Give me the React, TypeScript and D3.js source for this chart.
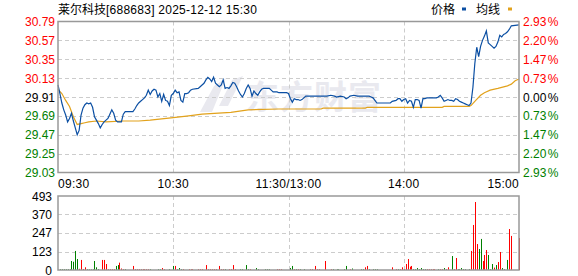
import React from "react";
import * as d3 from "d3";

// ---------- data ----------
const title = "莱尔科技";
const titleRest = "[688683] 2025-12-12 15:30";
const prevClose = 29.91;
const priceTicks = [30.79, 30.57, 30.35, 30.13, 29.91, 29.69, 29.47, 29.25, 29.03];
const pctTicks = ["2.93", "2.20", "1.47", "0.73", "0.00", "0.73", "1.47", "2.20", "2.93"];
const volTicks = [493, 370, 247, 123, 0];
const timeLabels = ["09:30", "10:30", "11:30/13:00", "14:00", "15:00"];
const timeLabelMinutes = [0, 60, 120, 180, 240];

// [minute index, price]
const pricePoints: [number, number][] = [
  [0, 30.05], [1, 29.95], [2, 29.84], [3, 29.76], [4, 29.7], [5, 29.62], [6, 29.66], [7, 29.72], [8, 29.63],
  [9, 29.55], [10, 29.47], [11, 29.52], [12, 29.7], [13, 29.78], [14, 29.82], [15, 29.84], [16, 29.83],
  [17, 29.84], [18, 29.79], [19, 29.68], [20, 29.64], [21, 29.6], [22, 29.55], [23, 29.59], [24, 29.62],
  [25, 29.64], [26, 29.66], [27, 29.71], [28, 29.76], [29, 29.72], [30, 29.64], [31, 29.62], [33, 29.62],
  [34, 29.71], [35, 29.74], [39, 29.74], [40, 29.77], [41, 29.81], [42, 29.84], [43, 29.86], [44, 29.88],
  [45, 29.9], [46, 29.93], [47, 29.99], [48, 29.94], [49, 29.98], [50, 30.0], [51, 29.99], [52, 29.91],
  [53, 29.95], [54, 29.86], [55, 29.94], [56, 29.87], [57, 29.86], [58, 29.81], [59, 29.93], [60, 29.95],
  [61, 29.99], [62, 29.96], [63, 29.97], [64, 29.87], [65, 29.85], [66, 29.95], [67, 29.95], [68, 29.96],
  [69, 29.99], [70, 30.0], [73, 30.01], [74, 30.03], [75, 30.05], [76, 30.07], [77, 30.11], [78, 30.14],
  [79, 30.12], [80, 30.09], [81, 30.14], [82, 30.07], [83, 30.05], [84, 30.03], [85, 30.05], [86, 30.11],
  [87, 30.01], [88, 30.02], [89, 30.01], [90, 30.04], [91, 30.08], [92, 30.07], [93, 30.03], [94, 29.98],
  [95, 29.94], [96, 29.91], [97, 29.95], [98, 30.01], [99, 30.05], [100, 30.01], [101, 29.92], [102, 29.98],
  [103, 29.95], [104, 29.93], [105, 29.97], [106, 30.0], [107, 30.01], [110, 30.01], [111, 29.99],
  [112, 29.97], [114, 29.97], [115, 29.96], [119, 29.96], [120, 29.95], [121, 29.89], [122, 29.85],
  [123, 29.89], [124, 29.88], [125, 29.88], [126, 29.87], [127, 29.88], [128, 29.9], [129, 29.92],
  [135, 29.92], [140, 29.92], [142, 29.93], [144, 29.92], [145, 29.91], [147, 29.92], [149, 29.91],
  [150, 29.89], [151, 29.9], [152, 29.92], [154, 29.93], [156, 29.92], [162, 29.92], [163, 29.91],
  [164, 29.9], [165, 29.87], [166, 29.84], [173, 29.84], [174, 29.86], [176, 29.87], [177, 29.89],
  [178, 29.89], [179, 29.86], [180, 29.88], [181, 29.89], [182, 29.84], [183, 29.87], [184, 29.86],
  [185, 29.79], [186, 29.88], [187, 29.88], [188, 29.87], [189, 29.78], [190, 29.89], [191, 29.89],
  [192, 29.9], [197, 29.9], [198, 29.91], [199, 29.93], [200, 29.9], [201, 29.86], [202, 29.87],
  [203, 29.88], [204, 29.87], [205, 29.87], [206, 29.86], [207, 29.89], [208, 29.88], [209, 29.86],
  [210, 29.85], [211, 29.84], [212, 29.83], [213, 29.82], [214, 29.81], [215, 29.84], [216, 30.02],
  [217, 30.3], [218, 30.49], [219, 30.38], [220, 30.5], [221, 30.57], [222, 30.62], [223, 30.68],
  [224, 30.54], [225, 30.52], [226, 30.5], [227, 30.48], [228, 30.5], [229, 30.55], [230, 30.63],
  [231, 30.61], [232, 30.64], [233, 30.65], [234, 30.67], [235, 30.7], [236, 30.74], [240, 30.75],
];

// [minute index, average price]
const avgPoints: [number, number][] = [
  [0, 30.0], [2, 29.95], [4, 29.87], [6, 29.8], [8, 29.68], [10, 29.59], [12, 29.6], [14, 29.61],
  [16, 29.62], [20, 29.63], [25, 29.62], [34, 29.63], [42, 29.63], [48, 29.64], [60, 29.67], [68, 29.69],
  [75, 29.71], [90, 29.73], [99, 29.76], [115, 29.77], [137, 29.77], [138, 29.78], [160, 29.78],
  [161, 29.79], [200, 29.79], [201, 29.8], [214, 29.8], [215, 29.81], [217, 29.86], [220, 29.93],
  [222, 29.96], [225, 29.99], [229, 30.01], [234, 30.04], [236, 30.06], [238, 30.1], [240, 30.12],
];

// [minute index, volume, direction (1 up / -1 down)]
const volumePoints: [number, number, number][] = [
  [1, 5, -1], [2, 5, -1], [3, 5, -1], [4, 5, -1], [5, 5, -1], [6, 5, -1], [7, 60, -1], [8, 55, -1],
  [9, 127, -1], [10, 73, -1], [11, 8, 1], [12, 67, 1], [13, 6, 1], [14, 18, 1], [15, 5, -1], [16, 4, -1],
  [17, 4, -1], [18, 4, -1], [19, 60, -1], [20, 18, -1], [21, 6, -1], [23, 67, 1], [24, 67, 1], [25, 40, 1],
  [26, 5, 1], [27, 5, 1], [28, 5, 1], [29, 5, 1], [30, 27, -1], [31, 33, -1], [32, 49, 1], [33, 10, 1],
  [34, 5, 1], [35, 5, -1], [39, 27, 1], [40, 5, 1], [41, 5, 1], [42, 5, 1], [43, 5, 1], [44, 5, 1],
  [45, 5, 1], [46, 5, 1], [47, 5, 1], [48, 5, -1], [52, 5, -1], [53, 5, -1], [54, 13, 1], [55, 5, 1],
  [58, 5, -1], [60, 27, -1], [61, 27, 1], [62, 5, -1], [63, 13, -1], [64, 5, -1], [65, 5, 1], [68, 5, 1],
  [69, 5, 1], [70, 5, 1], [73, 5, 1], [74, 5, 1], [75, 5, 1], [77, 33, 1], [78, 5, 1], [79, 5, 1],
  [80, 5, 1], [81, 5, 1], [82, 5, 1], [84, 27, 1], [85, 5, 1], [86, 5, 1], [87, 5, -1], [89, 5, 1],
  [90, 5, 1], [91, 33, 1], [92, 5, 1], [95, 5, -1], [96, 5, -1], [98, 33, -1], [99, 5, -1], [100, 5, 1],
  [103, 13, -1], [104, 5, -1], [108, 5, -1], [109, 5, -1], [110, 5, -1], [114, 5, 1], [115, 5, 1],
  [116, 5, 1], [121, 13, -1], [122, 27, -1], [123, 5, 1], [124, 5, -1], [125, 5, 1], [126, 5, -1],
  [128, 5, -1], [131, 5, 1], [132, 5, 1], [134, 27, 1], [135, 5, 1], [136, 5, 1], [139, 60, 1],
  [142, 5, 1], [143, 5, -1], [145, 5, -1], [146, 5, -1], [149, 5, -1], [150, 27, -1], [152, 5, 1],
  [153, 10, -1], [158, 5, -1], [159, 5, -1], [160, 18, 1], [161, 27, 1], [162, 5, -1], [164, 5, -1],
  [165, 5, -1], [166, 5, -1], [174, 18, 1], [176, 5, 1], [177, 5, -1], [178, 5, 1], [179, 18, 1],
  [180, 5, 1], [181, 40, 1], [182, 73, 1], [183, 22, 1], [184, 27, 1], [185, 5, -1], [186, 5, -1],
  [187, 13, -1], [188, 5, -1], [189, 13, -1], [190, 5, -1], [191, 5, -1], [192, 5, 1], [193, 5, 1],
  [194, 5, 1], [195, 5, 1], [196, 5, 1], [198, 5, -1], [199, 5, 1], [200, 5, 1], [201, 13, -1],
  [202, 5, 1], [203, 18, 1], [205, 93, -1], [206, 5, 1], [207, 80, 1], [208, 5, -1], [209, 5, -1],
  [210, 13, -1], [211, 5, -1], [212, 5, -1], [214, 5, -1], [215, 127, 1], [216, 300, 1], [217, 453, 1],
  [218, 173, 1], [219, 140, -1], [220, 207, -1], [221, 60, 1], [222, 100, 1], [223, 133, 1],
  [224, 100, -1], [225, 5, -1], [226, 40, -1], [227, 16, 1], [228, 33, -1], [229, 53, 1], [230, 120, 1],
  [231, 13, -1], [232, 5, -1], [234, 67, -1], [235, 273, 1], [236, 227, 1], [240, 213, 1],
];

// ---------- layout ----------
const W = 578;
const H = 276;
const L = 58;
const R = 519;
const PT = 21.5;
const PB = 172.5;
const VT = 196;
const VB = 270;

const RED = "#ff0000";
const GREEN = "#008000";
const BLUE = "#0b4fa3";
const ORANGE = "#e2a21c";
const GRID = "#cccccc";
const FRAME = "#999999";
const FONT = "'Liberation Sans', Arial, sans-serif";
const CJK = "'Noto Sans CJK SC', 'Liberation Sans', sans-serif";

export default function App() {
  const x = d3.scaleLinear().domain([0, 240]).range([L, R]);
  const y = d3.scaleLinear().domain([29.03, 30.79]).range([PB, PT]);
  const yv = d3.scaleLinear().domain([0, 493]).range([VB, VT]);

  const line = d3
    .line<[number, number]>()
    .x((d) => x(d[0]))
    .y((d) => y(d[1]));

  const labelColor = (v: number) =>
    Math.abs(v - prevClose) < 0.001 ? "#000" : v > prevClose ? RED : GREEN;

  const vGridMinutes = [60, 120, 180];

  return (
    <svg
      width={W}
      height={H}
      style={{ position: "absolute", left: 0, top: 0, background: "#fff" }}
    >
      {/* title */}
      <text x={L} y={14} fontSize={12} fill="#000">
        <tspan fontFamily={CJK}>{title}</tspan>
        <tspan fontFamily={FONT} letterSpacing={0.25}>{titleRest}</tspan>
      </text>

      {/* legend */}
      <text x={431} y={14} fontSize={12} fontFamily={CJK} fill="#000">
        价格
      </text>
      <rect x={462} y={7.5} width={4} height={3} fill={BLUE} />
      <text x={476} y={14} fontSize={12} fontFamily={CJK} fill="#000">
        均线
      </text>
      <rect x={508} y={7.5} width={4} height={3} fill={ORANGE} />

      {/* watermark */}
      <text
        x={246}
        y={109}
        fontSize={33}
        fontWeight="bold"
        fontFamily={CJK}
        fill="#e9e9ef"
        letterSpacing={1}
      >
        东方财富
      </text>
      <g fill="#e9e9ef">
        <path d="M214,86 L226,78 L212,112 L200,112 Z" />
        <path d="M232,80 L243,76 L228,106 L219,106 Z" />
      </g>

      {/* price grid */}
      {priceTicks.slice(1, -1).map((t) => (
        <line
          key={"pg" + t}
          x1={L}
          x2={R}
          y1={Math.round(y(t)) + 0.5}
          y2={Math.round(y(t)) + 0.5}
          stroke={GRID}
          strokeDasharray="4,3"
        />
      ))}
      {vGridMinutes.map((m) => (
        <line
          key={"vg" + m}
          x1={Math.round(x(m)) + 0.5}
          x2={Math.round(x(m)) + 0.5}
          y1={PT}
          y2={PB}
          stroke={GRID}
          strokeDasharray="4,3"
        />
      ))}

      {/* lines */}
      <path d={line(avgPoints) || ""} fill="none" stroke={ORANGE} strokeWidth={1.2} />
      <path d={line(pricePoints) || ""} fill="none" stroke={BLUE} strokeWidth={1.2} />

      {/* price frame */}
      <rect x={L} y={PT} width={R - L} height={PB - PT} fill="none" stroke={FRAME} strokeWidth={1.5} />

      {/* left price labels */}
      {priceTicks.map((t) => (
        <text
          key={"pl" + t}
          x={55}
          y={y(t) + 4.5}
          textAnchor="end"
          fontSize={12}
          fontFamily={FONT}
          fill={labelColor(t)}
        >
          {t.toFixed(2)}
        </text>
      ))}
      {/* right pct labels */}
      {pctTicks.map((s, i) => (
        <text
          key={"pr" + i}
          x={523}
          y={y(priceTicks[i]) + 4.5}
          fontSize={12}
          fontFamily={FONT}
          fill={labelColor(priceTicks[i])}
        >
          {s}
          <tspan dx={1.5}>%</tspan>
        </text>
      ))}

      {/* time labels */}
      {timeLabels.map((s, i) => (
        <text
          key={"tl" + s}
          x={x(timeLabelMinutes[i])}
          y={188}
          fontSize={12}
          fontFamily={FONT}
          fill="#000"
          letterSpacing={0.3}
          textAnchor={i === 0 ? "start" : i === timeLabels.length - 1 ? "end" : "middle"}
        >
          {s}
        </text>
      ))}

      {/* volume grid */}
      {volTicks.slice(1, -1).map((t) => (
        <line
          key={"vgh" + t}
          x1={L}
          x2={R}
          y1={Math.round(yv(t)) + 0.5}
          y2={Math.round(yv(t)) + 0.5}
          stroke={GRID}
          strokeDasharray="4,3"
        />
      ))}
      {vGridMinutes.map((m) => (
        <line
          key={"vgv" + m}
          x1={Math.round(x(m)) + 0.5}
          x2={Math.round(x(m)) + 0.5}
          y1={VT}
          y2={VB}
          stroke={GRID}
          strokeDasharray="4,3"
        />
      ))}

      {/* volume bars */}
      {volumePoints.map(([m, v, dir]) => (
        <rect
          key={"vb" + m}
          x={Math.round(x(m))}
          y={yv(v)}
          width={1}
          height={VB - yv(v)}
          fill={dir > 0 ? RED : GREEN}
        />
      ))}

      {/* volume frame */}
      <rect x={L} y={VT} width={R - L} height={VB - VT} fill="none" stroke={FRAME} strokeWidth={1.5} />

      {/* volume labels */}
      {volTicks.map((t) => (
        <text
          key={"vl" + t}
          x={52}
          y={yv(t) + 4.5}
          textAnchor="end"
          fontSize={12}
          fontFamily={FONT}
          fill="#000"
        >
          {t}
        </text>
      ))}
    </svg>
  );
}
